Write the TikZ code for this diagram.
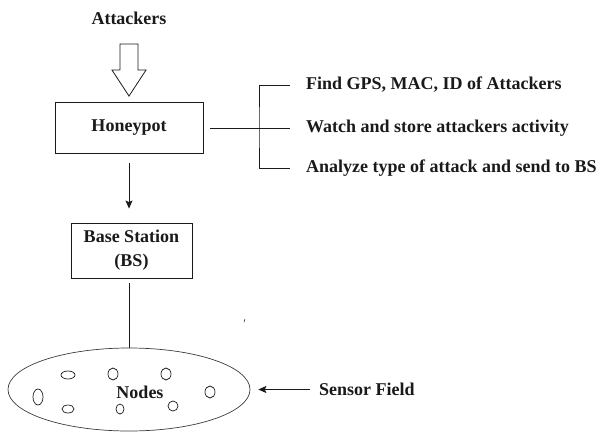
\documentclass[tikz,border=0pt]{standalone}
\usepackage{fontspec}
\setmainfont{Liberation Serif}
\usepackage{xcolor}
\usepackage{tikz}
\usetikzlibrary{arrows.meta,positioning,calc,shapes.geometric}
\definecolor{cInk}{HTML}{1A1A1A}
\tikzset{
  txt/.style   = {font=\fontsize{18}{24}\selectfont\bfseries, text=cInk, inner sep=0pt},
  box/.style   = {txt, draw=cInk, line width=0.9pt, align=center},
  note/.style  = {txt, anchor=west, inner xsep=16pt},
  link/.style  = {draw=cInk, line width=0.8pt},
  flow/.style  = {link, -{Stealth[length=8pt, width=7pt, inset=1.5pt]}},
  push/.style  = {draw=cInk, line width=0.8pt, fill=white},
  field/.style = {ellipse, draw=cInk!85, line width=0.7pt, inner sep=0pt,
                  minimum width=242pt, minimum height=83pt},
  mote/.style  = {draw=cInk, line width=0.7pt},
}
\begin{document}
\begin{tikzpicture}[x=1pt, y=-1pt]
  \useasboundingbox (0,0) rectangle (598,432);
  % attackers and honeypot
  \node[txt] (att) at (129,18) {Attackers};
  \node[box, minimum width=148pt, minimum height=51pt] (hp) at (129,128) {Honeypot};
  \draw[push] ($(hp.north)+(-9,-58)$) -- ++(18,0) -- ++(0,26) -- ++(8,0)
    -- ($(hp.north)+(0,-6)$) -- ++(-17,-26) -- ++(8,0) -- cycle;
  % honeypot tasks
  \coordinate (brk) at (259,128);
  \node[note] (n1) at (290,85)  {Find GPS, MAC, ID of Attackers};
  \node[note] (n2) at (290,128) {Watch and store attackers activity};
  \node[note] (n3) at (290,168) {Analyze type of attack and send to BS};
  \draw[link, shorten <=7pt] (hp.east) -- (n2.west);
  \draw[link] (n1.west) -| (brk) |- (n3.west);
  % base station
  \node[box, minimum width=121pt, minimum height=55pt] (bs) at (131.5,250.5)
    {Base Station\\(BS)};
  \draw[flow, shorten <=9pt, shorten >=14pt] (hp.south) -- (hp.south |- bs.north);
  % sensor field
  \node[field] (field) at (129,389.5) {};
  \node[txt] (nodes) at (140,392) {Nodes};
  \draw[link, shorten <=5pt] (hp.south |- bs.south) -- (hp.south |- field.north);
  \foreach \x/\y/\rx/\ry in {68/375/7/4, 113/374/5/6, 166/374/5/6, 38/397/5/8,
                             210/392/5/6, 68/409/6/4, 120/409/4/5, 173/406/5/5}
    \draw[mote] (\x,\y) ellipse [x radius=\rx, y radius=\ry];
  \node[note, inner xsep=9pt] (sf) at (310,389.5) {Sensor Field};
  \draw[flow, shorten >=8pt] (sf.west) -- (field.east);
  \draw[link, line width=0.5pt] (244,322) -- (245,319);
\end{tikzpicture}
\end{document}
